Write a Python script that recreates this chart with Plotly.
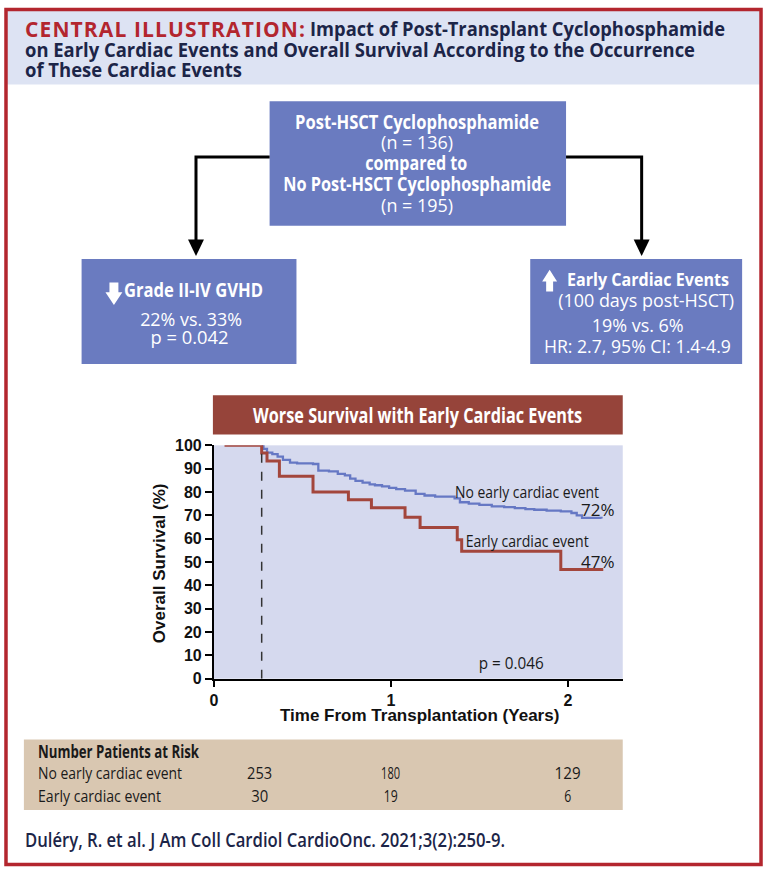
import json
import plotly.graph_objects as go

W, H = 765, 875

# ---------------- data ----------------
no_event_t = [0.27, 0.28, 0.30, 0.33, 0.36, 0.39, 0.43, 0.47, 0.56, 0.59, 0.65, 0.70, 0.74, 0.77,
              0.80, 0.84, 0.88, 0.91, 0.95, 0.99, 1.03, 1.08, 1.14, 1.19, 1.25, 1.36, 1.39, 1.44,
              1.50, 1.57, 1.64, 1.70, 1.76, 1.81, 1.88, 1.96, 2.02, 2.05, 2.08, 2.19]
no_event_s = [100, 98.5, 96.9, 96.2, 95.2, 93.8, 92.6, 92.3, 92.0, 89.2, 88.8, 87.8, 87.1, 85.7,
              84.8, 84.0, 83.3, 82.9, 82.4, 81.8, 81.2, 80.6, 79.2, 78.5, 78.0, 77.3, 75.6, 75.0,
              74.5, 73.8, 73.5, 73.1, 72.7, 72.4, 72.0, 71.7, 71.0, 70.0, 68.9, 68.6]

event_t = [0.06, 0.27, 0.30, 0.37, 0.56, 0.76, 0.89, 1.08, 1.165, 1.375, 1.40, 1.96, 2.20]
event_s = [100, 96.7, 93.3, 86.7, 80.0, 76.7, 73.3, 69.2, 64.8, 59.5, 54.6, 46.8, 46.8]

landmark = 0.27
x_ticks = [0, 1, 2]
y_ticks = [0, 10, 20, 30, 40, 50, 60, 70, 80, 90, 100]

risk_times = [0.26, 1, 2]
risk_groups = ["No early cardiac event", "Early cardiac event"]
risk_no_event = [253, 180, 129]
risk_event = [30, 19, 6]

# ---------------- styling ----------------
FC = "Open Sans, Lato, sans-serif"
FS = "Liberation Sans, Arial, sans-serif"
RED = "#b3262e"
NAVY = "#1c2548"
BOX = "#6a7bc0"
BANNER = "#96443a"
PLOTBG = "#d5d9ee"
BLUE = "#6678c4"
REDLINE = "#a3463c"
TABLE = "#d9c7b1"
INK = "#1a1a1a"

FOOTER = "Duléry, R. et al. J Am Coll Cardiol CardioOnc. 2021;3(2):250-9."

# measured text widths (px) used to condense the text like the reference typeface
FIT = {
    "Impact of Post-Transplant Cyclophosphamide": 415,
    "on Early Cardiac Events and Overall Survival According to the Occurrence": 670,
    "of These Cardiac Events": 217,
    "Post-HSCT Cyclophosphamide": 244,
    "(n = 136)": 72,
    "compared to": 102,
    "No Post-HSCT Cyclophosphamide": 268,
    "(n = 195)": 72,
    "Grade II-IV GVHD": 139,
    "22% vs. 33%": 102,
    "p = 0.042": 78,
    "Early Cardiac Events": 162,
    "(100 days post-HSCT)": 176,
    "19% vs. 6%": 92,
    "HR: 2.7, 95% CI: 1.4-4.9": 187,
    "Worse Survival with Early Cardiac Events": 329,
    "No early cardiac event": 144,
    "Early cardiac event": 123,
    "p = 0.046": 65,
    "Number Patients at Risk": 161,
    "253": 25, "180": 19, "129": 26, "30": 17, "19": 14, "6": 7,
    FOOTER: 480,
}
FIT_SPACING = {"CENTRAL ILLUSTRATION:": 280}


def px(x):
    return x / W


def py(y):
    return 1 - y / H


def ann(text, x, y, size, color, xanchor="center", family=FC, weight="normal", **kw):
    d = dict(text=text, x=px(x), y=py(y), xref="paper", yref="paper", xanchor=xanchor,
             yanchor="middle", align=xanchor if xanchor != "center" else "center", showarrow=False,
             borderpad=0, font=dict(family=family, size=size, color=color, weight=weight))
    d.update(kw)
    return d


def rect(x0, y0, x1, y1, fill):
    return dict(type="rect", xref="paper", yref="paper", x0=px(x0), x1=px(x1), y0=py(y1), y1=py(y0),
                fillcolor=fill, line=dict(color=fill, width=0), layer="below")


def path(points, fill=None, color="black", lw=0):
    d = "M " + " L ".join(f"{px(a):.5f},{py(b):.5f}" for a, b in points)
    if fill:
        d += " Z"
    return dict(type="path", xref="paper", yref="paper", path=d,
                fillcolor=fill if fill else "rgba(0,0,0,0)",
                line=dict(color=color, width=lw))


fig = go.Figure()

fig.add_trace(go.Scatter(x=no_event_t, y=no_event_s, mode="lines", line_shape="hv",
                         line=dict(color=BLUE, width=2.3), hoverinfo="skip"))
fig.add_trace(go.Scatter(x=event_t, y=event_s, mode="lines", line_shape="hv",
                         line=dict(color=REDLINE, width=3), hoverinfo="skip"))

shapes = []
shapes.append(rect(3, 3, 761, 78, "#dde3f3"))          # header band
shapes.append(rect(267, 95, 565, 222, BOX))            # top box
shapes.append(rect(78, 256, 294, 363, BOX))            # left box
shapes.append(rect(529, 256, 742, 363, BOX))           # right box
shapes.append(path([(267, 152), (193, 152), (193, 238)], color="black", lw=3))
shapes.append(path([(565, 152), (641, 152), (641, 238)], color="black", lw=3))
shapes.append(path([(185, 236), (201, 236), (193, 253)], fill="black"))
shapes.append(path([(633, 236), (649, 236), (641, 253)], fill="black"))
shapes.append(path([(106, 280), (115, 280), (115, 290), (119, 290), (110.5, 303), (102, 290), (106, 290)],
                   fill="white", color="white"))
shapes.append(path([(545, 289), (552, 289), (552, 279), (556, 279), (548.5, 267), (541, 279), (545, 279)],
                   fill="white", color="white"))
shapes.append(rect(210, 395, 622, 435, BANNER))        # banner
shapes.append(rect(20, 746, 622, 818, TABLE))          # risk table
shapes.append(dict(type="line", xref="x", yref="y", x0=landmark, x1=landmark, y0=0, y1=100,
                   line=dict(color="#333333", width=1.5, dash="dash")))
shapes.append(dict(type="rect", xref="paper", yref="paper", x0=px(2), x1=px(761), y0=py(873.5), y1=py(1.5),
                   line=dict(color=RED, width=3.5), fillcolor="rgba(0,0,0,0)"))

annotations = []
# header
annotations.append(ann("CENTRAL ILLUSTRATION:", 20, 21, 21, RED, xanchor="left", weight="bold"))
annotations.append(ann("Impact of Post-Transplant Cyclophosphamide", 307, 21, 20, NAVY, xanchor="left", weight="bold"))
annotations.append(ann("on Early Cardiac Events and Overall Survival According to the Occurrence", 20, 42, 20, NAVY,
                       xanchor="left", weight="bold"))
annotations.append(ann("of These Cardiac Events", 20, 63, 20, NAVY, xanchor="left", weight="bold"))

# top box
cx = 415
annotations.append(ann("Post-HSCT Cyclophosphamide", cx, 116, 19, "white", weight="bold"))
annotations.append(ann("(n = 136)", cx, 137, 19, "white"))
annotations.append(ann("compared to", cx, 158, 19, "white", weight="bold"))
annotations.append(ann("No Post-HSCT Cyclophosphamide", cx, 179, 19, "white", weight="bold"))
annotations.append(ann("(n = 195)", cx, 201, 19, "white"))

# left box
annotations.append(ann("Grade II-IV GVHD", 120, 287, 20, "white", xanchor="left", weight="bold"))
annotations.append(ann("22% vs. 33%", 188, 317, 19, "white"))
annotations.append(ann("p = 0.042", 186, 336, 19, "white"))

# right box
annotations.append(ann("Early Cardiac Events", 565, 276, 18, "white", xanchor="left", weight="bold"))
annotations.append(ann("(100 days post-HSCT)", 645, 298, 19, "white"))
annotations.append(ann("19% vs. 6%", 637, 323, 19, "white"))
annotations.append(ann("HR: 2.7, 95% CI: 1.4-4.9", 637, 345, 18, "white"))

# banner
annotations.append(ann("Worse Survival with Early Cardiac Events", 416, 415, 21, "white", weight="bold"))

# axis titles
annotations.append(ann("Overall Survival (%)", 156, 566, 17, "#111111", family=FS, weight="bold", textangle=-90))
annotations.append(ann("Time From Transplantation (Years)", 418, 722, 17, "#111111", family=FS, weight="bold"))


def dann(text, x, y, xanchor="center"):
    return dict(text=text, x=x, y=y, xref="x", yref="y", xanchor=xanchor, yanchor="middle",
                align=xanchor if xanchor != "center" else "center", borderpad=0,
                showarrow=False, font=dict(family=FC, size=17, color=INK))


annotations.append(dann("No early cardiac event", 1.77, 80.3))
annotations.append(dann("72%", 2.27, 72.3, "right"))
annotations.append(dann("Early cardiac event", 1.77, 59.2))
annotations.append(dann("47%", 2.27, 50.4, "right"))
annotations.append(dann("p = 0.046", 1.68, 7.1))

# risk table
annotations.append(ann("Number Patients at Risk", 33, 758, 17, INK, xanchor="left", weight="bold"))
for row_y, label, vals in [(780, risk_groups[0], risk_no_event), (803, risk_groups[1], risk_event)]:
    annotations.append(ann(label, 33, row_y, 17, INK, xanchor="left"))
    for t, v in zip(risk_times, vals):
        annotations.append(dict(text=str(v), x=t, y=py(row_y), xref="x", yref="paper", xanchor="center",
                                yanchor="middle", showarrow=False, borderpad=0,
                                font=dict(family=FC, size=17, color=INK)))

# footer
annotations.append(ann(FOOTER, 20, 848, 19, NAVY, xanchor="left", weight=600))

fig.update_layout(
    width=W, height=H, autosize=False,
    margin=dict(l=0, r=0, t=0, b=0),
    paper_bgcolor="white", plot_bgcolor=PLOTBG,
    showlegend=False,
    shapes=shapes, annotations=annotations,
    xaxis=dict(domain=[px(211), px(622)], range=[0, 2.31], tickvals=x_ticks, ticktext=[str(v) for v in x_ticks],
               ticks="outside", ticklen=6, tickwidth=2, tickcolor="black",
               showline=True, linecolor="black", linewidth=2, showgrid=False, zeroline=False,
               tickfont=dict(family=FS, size=16, color="#111111", weight="bold"), anchor="y"),
    yaxis=dict(domain=[py(684), py(446)], range=[0, 100], tickvals=y_ticks,
               ticks="outside", ticklen=7, tickwidth=2, tickcolor="black",
               showline=True, linecolor="black", linewidth=2, showgrid=False, zeroline=False,
               tickfont=dict(family=FS, size=16, color="#111111", weight="bold"), anchor="x"),
)

post = """
document.documentElement.style.margin = '0';
document.documentElement.style.padding = '0';
document.documentElement.style.overflow = 'hidden';
document.body.style.margin = '0';
document.body.style.padding = '0';
document.body.style.overflow = 'hidden';
var gd = document.getElementById('{plot_id}');
gd.style.position = 'absolute';
gd.style.left = '0px';
gd.style.top = '0px';
var fit = %s;
var fitSp = %s;
gd.querySelectorAll('text.annotation-text').forEach(function(t) {
  var k = t.textContent;
  var target = fit[k] || fitSp[k];
  if (!target) return;
  var w = t.getComputedTextLength();
  t.setAttribute('textLength', target);
  t.setAttribute('lengthAdjust', fit[k] ? 'spacingAndGlyphs' : 'spacing');
  var g = t.closest('.annotation');
  var r = g ? g.querySelector('rect.bg') : null;
  if (r) {
    var rw = parseFloat(r.getAttribute('width'));
    var rx = parseFloat(r.getAttribute('x') || '0');
    var nw = rw - (w - target);
    var anchor = t.getAttribute('text-anchor') || 'middle';
    var shift = anchor === 'start' ? 0 : (anchor === 'end' ? (rw - nw) : (rw - nw) / 2);
    r.setAttribute('width', nw);
    r.setAttribute('x', rx + shift);
  }
});
""" % (json.dumps(FIT, ensure_ascii=False), json.dumps(FIT_SPACING, ensure_ascii=False))

fig.write_html("out.html", post_script=post, config={"displayModeBar": False, "staticPlot": True})
